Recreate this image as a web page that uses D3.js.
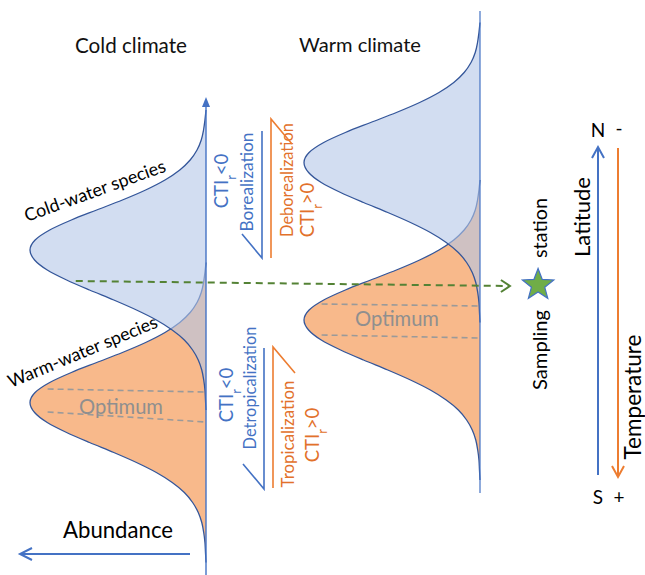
<!DOCTYPE html>
<html><head><meta charset="utf-8">
<script src="https://cdn.jsdelivr.net/npm/d3@7"></script>
<style>body{margin:0;background:#fff} svg{display:block} text{font-family:Lato,"Open Sans",sans-serif}</style>
</head><body><svg id="c" width="645" height="575"></svg>
<script>
// ---------------- data ----------------
const panelTitles = ["Cold climate", "Warm climate"];
const speciesNames = ["Cold-water species", "Warm-water species"];
// latitude (arbitrary units) of the abundance peak: [cold-water, warm-water]
const peakLatCold = [65, 34.5];
const peakLatWarm = [82.5, 51];
// shape of each abundance profile (offset from peak, relative abundance)
const latOffset = [28,26,24,22,20,18,16,14,12,10,8,6,4,2,0,-2,-4,-6,-8,-10,-12,-14,-16,-18,-20,-22,-24,-26,-28,-30,-32];
const abundance = [0,.006,.014,.027,.051,.090,.149,.233,.343,.475,.621,.765,.888,.971,1,.974,.902,.792,.662,.524,.395,.282,.192,.123,.076,.044,.024,.013,.006,.003,0];
// optimum band of warm-water species: [latitude at outer end, latitude at axis]
const optimumCold = [[37.2, 36.6], [32.6, 30.6]];
const optimumWarm = [[54.2, 53.8], [48.0, 47.4]];
const stationLat = [58.8, 57.8];
const ctiLabels = ["Borealization", "Deborealization", "Detropicalization", "Tropicalization"];

// ---------------- scales ----------------
const svg = d3.select("#c");
const y = d3.scaleLinear().domain([0, 115]).range([575, 0]);
const xCold = d3.scaleLinear().domain([0, 1]).range([206, 30]);
const xWarm = d3.scaleLinear().domain([0, 1]).range([480, 304]);

const BLUE = "#4472c4", ORANGE = "#ed7d31", OTXT = "#e2712b", CURVE = "#34569a";

function fit(sel, w, base) {
  base = base || 20;
  sel.style("font-size", base + "px");
  const L = sel.node().getComputedTextLength();
  sel.style("font-size", (base * w / L) + "px");
  return sel;
}

function profile(p) { return latOffset.map((o, i) => ({lat: p + o, ab: abundance[i]})); }

function drawPanel(peaks, xs, opt) {
  const g = svg.append("g");
  const area = d3.area().curve(d3.curveMonotoneY).y(d => y(d.lat)).x0(xs(0)).x1(d => xs(d.ab));
  const line = d3.line().curve(d3.curveMonotoneY).y(d => y(d.lat)).x(d => xs(d.ab));
  const warm = profile(peaks[1]), cold = profile(peaks[0]);
  g.append("path").attr("d", area(warm)).attr("fill", "#f8b98b");
  g.append("path").attr("d", line(warm)).attr("fill", "none").attr("stroke", CURVE).attr("stroke-width", 1.3);
  g.append("path").attr("d", area(cold)).attr("fill", "#b4c7e7").attr("fill-opacity", 0.6);
  g.append("path").attr("d", line(cold)).attr("fill", "none").attr("stroke", CURVE).attr("stroke-width", 1.3);
  opt.forEach(o => {
    g.append("line").attr("x1", xs(0.9)).attr("x2", xs(0)).attr("y1", y(o[0])).attr("y2", y(o[1]))
      .attr("stroke", "#9a9a9a").attr("stroke-width", 1.6).attr("stroke-dasharray", "6,4");
  });
  return g;
}

drawPanel(peakLatCold, xCold, optimumCold);
drawPanel(peakLatWarm, xWarm, optimumWarm);

// Optimum labels
fit(svg.append("text").attr("x", 121).attr("y", 407).attr("dy", "0.35em").attr("text-anchor", "middle").attr("fill", "#8f8f8f").text("Optimum"), 84);
fit(svg.append("text").attr("x", 397).attr("y", 319).attr("dy", "0.35em").attr("text-anchor", "middle").attr("fill", "#8f8f8f").text("Optimum"), 84);

// axes
svg.append("line").attr("x1", xCold(0)).attr("x2", xCold(0)).attr("y1", y(0)).attr("y2", y(94)).attr("stroke", BLUE).attr("stroke-width", 1.4);
svg.append("path").attr("d", `M${xCold(0)},${y(95.6)} l-4,10 l8,0 z`).attr("fill", BLUE);
svg.append("line").attr("x1", xWarm(0)).attr("x2", xWarm(0)).attr("y1", y(112.8)).attr("y2", y(16.4)).attr("stroke", BLUE).attr("stroke-width", 1.2);

// Abundance arrow
svg.append("line").attr("x1", 190).attr("x2", 21).attr("y1", 554).attr("y2", 554).attr("stroke", BLUE).attr("stroke-width", 2);
svg.append("path").attr("d", "M32,548 L20,554 L32,560").attr("fill", "none").attr("stroke", BLUE).attr("stroke-width", 2);
fit(svg.append("text").attr("x", 118).attr("y", 538).attr("text-anchor", "middle").attr("fill", "#000").text("Abundance"), 110);

// titles
fit(svg.append("text").attr("x", 131).attr("y", 53).attr("text-anchor", "middle").attr("fill", "#111").text(panelTitles[0]), 112);
fit(svg.append("text").attr("x", 360).attr("y", 52).attr("text-anchor", "middle").attr("fill", "#111").text(panelTitles[1]), 122);

// species labels
fit(svg.append("text").attr("transform", "translate(27,222) rotate(-20)").attr("fill", "#000").text(speciesNames[0]), 149);
fit(svg.append("text").attr("transform", "translate(11,388) rotate(-22.5)").attr("fill", "#000").text(speciesNames[1]), 160);

// sampling station arrow
svg.append("line").attr("x1", xCold(0.74)).attr("x2", xWarm(-0.165)).attr("y1", y(stationLat[0])).attr("y2", y(stationLat[1]))
  .attr("stroke", "#548235").attr("stroke-width", 2).attr("stroke-dasharray", "7,5");
{
  const tx = xWarm(-0.17), ty = y(stationLat[1]);
  svg.append("path").attr("d", `M${tx-9},${ty-6} L${tx},${ty} L${tx-9},${ty+6}`).attr("fill", "none").attr("stroke", "#548235").attr("stroke-width", 2);
}
// star
{
  const cx = xWarm(-0.33), cy = y(58), R = 16.5, r = 7;
  const pts = d3.range(10).map(i => { const a = -Math.PI / 2 + i * Math.PI / 5, rr = i % 2 ? r : R; return [cx + rr * Math.cos(a), cy + rr * Math.sin(a)]; });
  svg.append("path").attr("d", "M" + pts.join("L") + "Z").attr("fill", "#70ad47").attr("stroke", BLUE).attr("stroke-width", 1.2);
}
function vtext(cx, cy, txt, color, w) {
  const t = svg.append("text").attr("transform", `translate(${cx},${cy}) rotate(-90)`).attr("dy", "0.35em").attr("text-anchor", "middle").attr("fill", color).text(txt);
  return fit(t, w);
}
vtext(540, 350, "Sampling", "#000", 80);
vtext(540, 228, "station", "#000", 60);
vtext(582, 217, "Latitude", "#000", 80);
vtext(633, 397, "Temperature", "#000", 125);

// latitude / temperature arrows
svg.append("line").attr("x1", 598).attr("x2", 598).attr("y1", 475).attr("y2", 148).attr("stroke", BLUE).attr("stroke-width", 2);
svg.append("path").attr("d", "M592,158 L598,147 L604,158").attr("fill", "none").attr("stroke", BLUE).attr("stroke-width", 2);
svg.append("line").attr("x1", 618).attr("x2", 618).attr("y1", 148).attr("y2", 476).attr("stroke", ORANGE).attr("stroke-width", 2);
svg.append("path").attr("d", "M612,466 L618,477 L624,466").attr("fill", "none").attr("stroke", ORANGE).attr("stroke-width", 2);
[["N", 598, 137], ["-", 619, 135], ["S", 598, 504], ["+", 619, 504]].forEach(d => {
  svg.append("text").attr("x", d[1]).attr("y", d[2]).attr("text-anchor", "middle").style("font-size", "19px").attr("fill", "#000").text(d[0]);
});

// CTI labels
function cti(cx, cy, sign, color) {
  const t = svg.append("text").attr("transform", `translate(${cx},${cy}) rotate(-90)`).attr("dy", "0.35em").attr("text-anchor", "middle").attr("fill", color).style("font-size", "18.5px");
  t.append("tspan").text("CTI");
  t.append("tspan").attr("baseline-shift", "sub").style("font-size", "70%").text("r");
  t.append("tspan").text(sign + "0");
  return t;
}
cti(222, 181, "<", BLUE);
vtext(247, 182, ctiLabels[0], BLUE, 99);
vtext(287, 180, ctiLabels[1], OTXT, 114);
cti(308, 210, ">", OTXT);
cti(227, 395, "<", BLUE);
vtext(250, 388, ctiLabels[2], BLUE, 123);
vtext(288, 434, ctiLabels[3], OTXT, 107);
cti(313, 435, ">", OTXT);

// harpoons
function harpoon(d, color) { svg.append("path").attr("d", d).attr("fill", "none").attr("stroke", color).attr("stroke-width", 1.6); }
harpoon("M262,131 L262,258 L242,234", BLUE);
harpoon("M292,144 L271,119 L271,258", ORANGE);
harpoon("M264,348 L264,489 L243,464", BLUE);
harpoon("M295,373 L273,347 L273,488", ORANGE);
</script></body></html>
